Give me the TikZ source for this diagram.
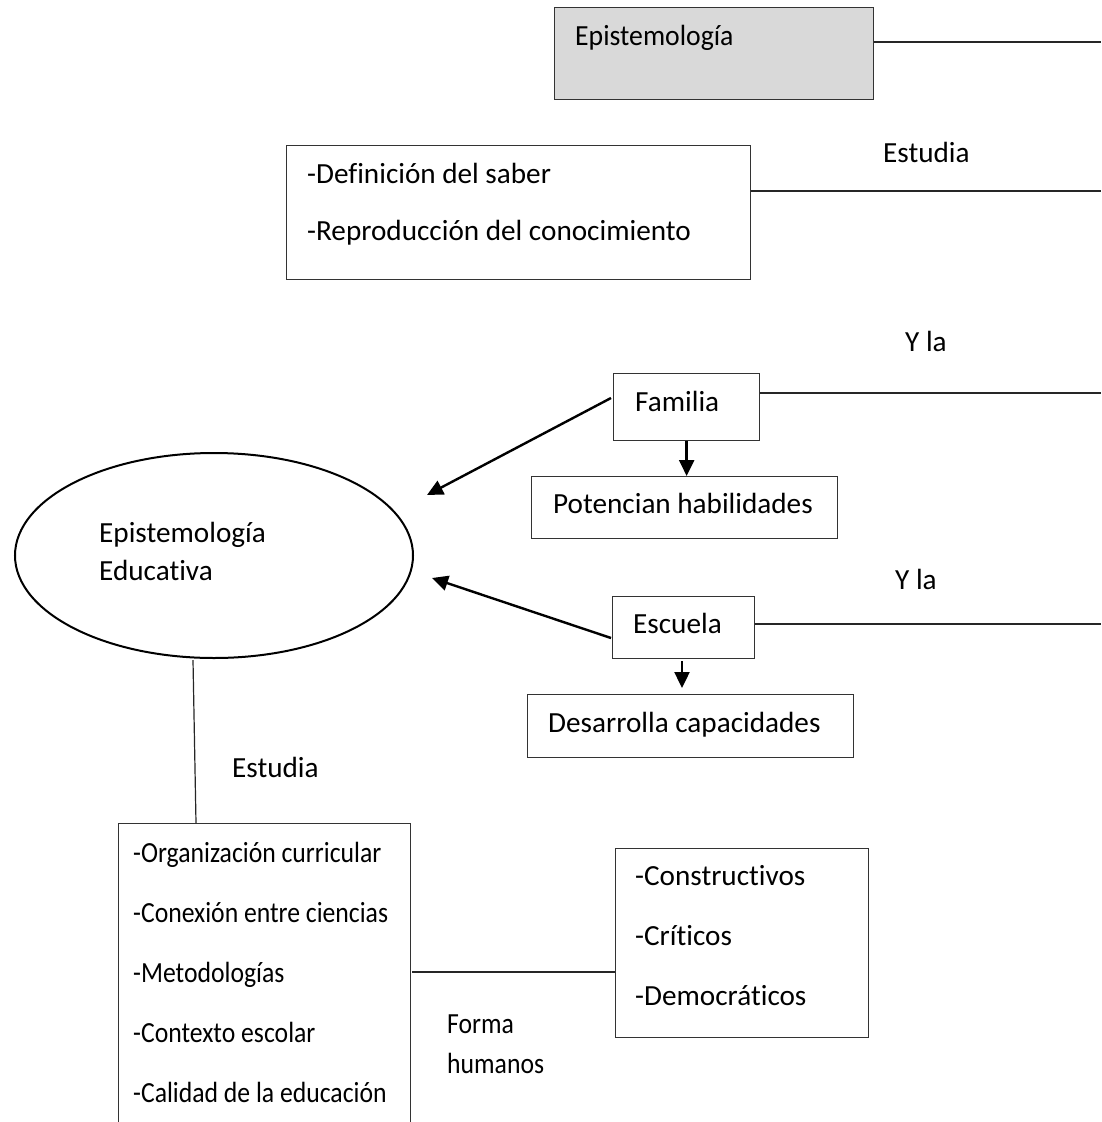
\documentclass[tikz,border=0pt]{standalone}
\usepackage{fontspec}
\setmainfont{Carlito}[Ligatures=CommonOff]
\usetikzlibrary{arrows.meta,shapes.geometric}
\definecolor{boxgray}{RGB}{217,217,217}
\newcommand{\narrowtxt}[1]{\scalebox{0.88}[1]{#1}}
\begin{document}
\begin{tikzpicture}[x=1pt,y=-1pt,
  font=\fontsize{29.2}{34}\selectfont,
  box/.style={draw=black!80, line width=1.3pt, rectangle, inner sep=0pt, anchor=north west},
  lbl/.style={anchor=base west, inner sep=0pt},
  conn/.style={draw=black!85, line width=1.2pt},
  arr/.style={line width=2.4pt, -{Triangle[length=16pt,width=15pt]}}
]
\useasboundingbox (0,0) rectangle (1101,1122);
% top box
\node[box, fill=boxgray, minimum width=319pt, minimum height=92pt] (epi) at (554,7) {};
\node[lbl] (tepi) at (575,45) {\scalebox{0.95}[1]{Epistemología}};
\coordinate (r1) at (1101,42);
\draw[conn] (epi.east |- r1) -- (r1);
% definicion box
\node[box, minimum width=464pt, minimum height=134pt] (def) at (286,145) {};
\node[lbl] (tdef1) at (307,183) {-Definición del saber};
\node[lbl] (tdef2) at (307,240) {-Reproducción del conocimiento};
\coordinate (r2) at (1101,191);
\draw[conn] (def.east |- r2) -- (r2);
\node[lbl] (est1) at (883,162) {Estudia};
% familia
\node[box, minimum width=146pt, minimum height=67pt] (fam) at (613,373) {};
\node[lbl] (tfam) at (635,411) {Familia};
\coordinate (r3) at (1101,393);
\draw[conn] (fam.east |- r3) -- (r3);
\node[lbl] (yla1) at (905,351) {Y la};
\node[box, minimum width=306pt, minimum height=62pt] (pot) at (531,476) {};
\node[lbl] (tpot) at (553,513) {Potencian habilidades};
% escuela
\node[box, minimum width=142pt, minimum height=62pt] (esc) at (612,596) {};
\node[lbl] (tesc) at (633,633) {Escuela};
\coordinate (r4) at (1101,624);
\draw[conn] (esc.east |- r4) -- (r4);
\node[lbl] (yla2) at (895,589) {Y la};
\node[box, minimum width=326pt, minimum height=63pt] (des) at (527,694) {};
\node[lbl] (tdes) at (548,732) {Desarrolla capacidades};
% ellipse
\node[ellipse, draw=black, line width=2pt, minimum width=398pt, minimum height=205pt, inner sep=0pt] (ell) at (214,555.5) {};
\node[lbl] (tell1) at (99,542) {Epistemología};
\node[lbl] (tell2) at (99,580) {Educativa};
% arrows
\coordinate (fs) at (611,398);
\coordinate (fe) at (427,495);
\draw[arr] (fs) -- (fe);
\coordinate (es) at (611,638);
\coordinate (ee) at (432,578);
\draw[arr] (es) -- (ee);
\draw[arr] (fam.south) -- (fam.south |- pot.north);
\coordinate (ed) at (682,661);
\draw[arr] (ed) -- ([yshift=6pt]ed |- des.north);
% bottom
\node[box, minimum width=292pt, minimum height=330pt] (bot) at (118,823) {};
\node[lbl] (b1) at (133,862) {\narrowtxt{-Organización curricular}};
\node[lbl] (b2) at (133,922) {\narrowtxt{-Conexión entre ciencias}};
\node[lbl] (b3) at (133,982) {\narrowtxt{-Metodologías}};
\node[lbl] (b4) at (133,1042) {\narrowtxt{-Contexto escolar}};
\node[lbl] (b5) at (133,1102) {\narrowtxt{-Calidad de la educación}};
\coordinate (v1) at (193,660);
\coordinate (v2) at (196,823);
\draw[conn] (v1) -- (v2);
\node[lbl] (est2) at (232,777) {Estudia};
% right bottom box
\node[box, minimum width=253pt, minimum height=189pt] (hum) at (615,848) {};
\node[lbl] (h1) at (635,885) {-Constructivos};
\node[lbl] (h2) at (635,945) {-Críticos};
\node[lbl] (h3) at (635,1005) {-Democráticos};
\coordinate (c1) at (412,972);
\draw[conn] (c1) -- (c1 -| hum.west);
\node[lbl] (forma) at (447,1033) {\narrowtxt{Forma}};
\node[lbl] (humanos) at (447,1073) {\narrowtxt{humanos}};
\end{tikzpicture}
\end{document}
